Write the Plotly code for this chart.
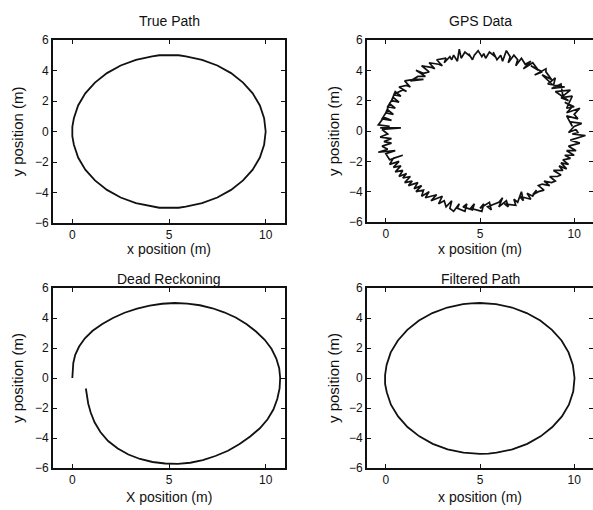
import plotly.graph_objects as go

# ---------------- data ----------------
TRUE_X = [10.00, 9.92, 9.70, 9.33, 8.83, 8.21, 7.50, 6.71, 5.87, 5.50, 5.00, 4.50, 4.13, 3.29, 2.50, 1.79, 1.17, 0.67,
          0.30, 0.08, 0.00, 0.00, 0.08, 0.30, 0.67, 1.17, 1.79, 2.50, 3.29, 4.13, 4.50, 5.00, 5.50, 5.87, 6.71, 7.50,
          8.21, 8.83, 9.33, 9.70, 9.92, 10.00]
TRUE_Y = [0.00, 0.87, 1.71, 2.50, 3.21, 3.83, 4.33, 4.70, 4.92, 5.00, 5.00, 5.00, 4.92, 4.70, 4.33, 3.83, 3.21, 2.50,
          1.71, 0.87, 0.30, -0.30, -0.87, -1.71, -2.50, -3.21, -3.83, -4.33, -4.70, -4.92, -5.00, -5.00, -5.00, -4.92,
          -4.70, -4.33, -3.83, -3.21, -2.50, -1.71, -0.87, 0.00]

GPS_X = [10.1, 9.7, 10.0, 10.4, 9.8, 9.9, 9.6, 10.2, 10.0, 10.3, 9.6, 9.9, 9.5, 10.0, 9.6, 9.9, 9.3, 9.7,
         9.0, 9.8, 9.4, 9.3, 8.8, 9.5, 8.6, 9.0, 8.9, 8.3, 8.8, 8.5, 8.5, 7.9, 8.3, 7.7, 8.1, 7.8,
         7.3, 7.7, 7.4, 7.2, 6.9, 7.0, 6.8, 6.5, 6.6, 6.4, 6.2, 6.1, 5.9, 5.7, 5.8, 5.5, 5.3, 5.2,
         5.1, 4.9, 4.7, 4.6, 4.4, 4.5, 4.2, 4.0, 3.9, 3.8, 3.6, 3.5, 3.4, 3.1, 3.2, 2.7, 3.0, 2.8,
         2.3, 2.6, 2.4, 1.9, 2.3, 2.0, 1.6, 2.1, 1.7, 1.3, 2.0, 1.5, 1.0, 1.3, 1.1, 0.7, 1.1, 0.9,
         0.4, 0.8, 0.5, 0.3, 0.7, 0.4, 0.1, 0.5, 0.2, 0.0, 0.4, 0.1, -0.2, 0.3, -0.1, -0.4, 0.2, -0.3,
         0.8, -0.2, 0.1, -0.3, 0.3, -0.1, 0.3, -0.2, 0.1, -0.4, 0.5, 0.0, 0.2, 0.9, 0.4, 0.2, 0.7, 0.4,
         0.8, 0.5, 0.9, 0.7, 1.1, 0.9, 1.3, 1.0, 1.4, 1.2, 1.7, 1.5, 1.9, 1.6, 2.0, 1.9, 2.3, 2.1,
         2.7, 2.4, 2.6, 3.0, 2.8, 3.1, 3.2, 3.5, 3.4, 3.6, 3.9, 3.8, 4.2, 4.3, 4.1, 4.6, 4.7, 4.5,
         5.1, 5.2, 5.0, 5.5, 5.6, 5.4, 6.0, 6.2, 6.0, 6.4, 6.5, 6.3, 6.9, 6.8, 7.0, 7.2, 7.3, 7.1,
         7.7, 7.5, 7.8, 8.0, 7.8, 8.1, 8.4, 8.1, 8.3, 8.7, 8.4, 8.8, 9.0, 8.7, 9.1, 9.3, 8.9, 9.4,
         9.2, 9.6, 9.3, 9.7, 9.4, 9.8, 9.5, 10.0, 9.6, 10.1, 9.7, 10.0, 10.3, 9.8, 10.1, 10.6, 9.9, 10.2,
         10.1]
GPS_Y = [0.1, -0.1, 0.3, 0.5, 0.6, 0.3, 1.0, 0.8, 1.1, 1.5, 1.2, 1.6, 1.9, 1.6, 1.5, 2.3, 2.2, 2.0,
         2.6, 2.7, 2.3, 3.1, 2.8, 2.9, 3.1, 3.5, 3.0, 3.7, 3.4, 3.9, 4.1, 3.7, 3.9, 4.3, 4.0, 4.5,
         4.1, 4.6, 4.4, 4.8, 4.3, 4.7, 5.0, 4.5, 4.9, 5.3, 4.6, 5.0, 4.7, 5.2, 4.9, 5.2, 4.8, 5.1,
         4.9, 5.3, 5.0, 4.7, 5.1, 4.9, 5.2, 4.8, 5.4, 4.6, 5.0, 4.7, 4.9, 4.5, 4.8, 4.7, 4.3, 4.4,
         4.5, 4.1, 4.2, 4.3, 3.9, 3.8, 4.0, 3.6, 3.6, 3.3, 3.4, 3.4, 3.3, 2.9, 3.0, 2.9, 2.6, 2.7,
         2.4, 2.3, 2.6, 2.0, 1.9, 2.2, 1.6, 1.5, 1.8, 1.2, 1.1, 1.4, 0.8, 0.7, 0.9, 0.4, 0.3, 0.2,
         0.2, 0.1, -0.2, -0.4, -0.5, -0.7, -0.8, -1.0, -1.2, -1.4, -1.3, -1.5, -1.9, -1.6, -1.8, -2.2, -2.0, -2.4,
         -2.3, -2.7, -2.6, -3.0, -2.8, -3.1, -3.0, -3.4, -3.3, -3.6, -3.4, -3.8, -3.6, -4.0, -3.9, -4.3, -4.0, -4.4,
         -4.2, -4.6, -4.5, -4.3, -4.8, -4.6, -5.0, -4.6, -5.1, -5.3, -4.8, -5.1, -5.3, -4.8, -5.0, -5.2, -4.8, -5.1,
         -5.3, -4.8, -5.1, -4.7, -5.2, -5.0, -4.7, -4.4, -5.0, -4.6, -5.0, -4.8, -4.9, -4.5, -4.7, -4.0, -4.6, -4.3,
         -4.5, -4.1, -4.3, -3.9, -4.2, -4.0, -3.9, -3.6, -3.5, -3.6, -3.3, -3.4, -3.3, -3.0, -3.0, -2.9, -2.6, -2.6,
         -2.3, -2.5, -2.1, -2.2, -1.9, -1.8, -1.6, -1.6, -1.3, -1.3, -1.0, -0.9, -0.8, -0.6, -0.5, -0.3, -0.2, -0.1,
         0.1]

DR_X = [0.00, 0.02, 0.05, 0.15, 0.35, 0.65, 1.05, 1.55, 2.10, 2.70, 3.35, 4.00, 4.65, 5.30, 5.95, 6.60, 7.25,
        7.85, 8.45, 9.00, 9.50, 9.95, 10.30, 10.55, 10.70, 10.75, 10.72, 10.60, 10.40, 10.10, 9.70, 9.20, 8.65,
        8.05, 7.40, 6.75, 6.10, 5.45, 4.80, 4.15, 3.50, 2.90, 2.35, 1.85, 1.45, 1.15, 0.95, 0.82, 0.74, 0.70]
DR_Y = [0.00, 0.50, 1.00, 1.55, 2.10, 2.65, 3.15, 3.60, 4.00, 4.35, 4.62, 4.82, 4.95, 5.00, 4.96, 4.85, 4.65,
        4.38, 4.03, 3.60, 3.10, 2.55, 1.95, 1.30, 0.65, 0.00, -0.70, -1.40, -2.10, -2.75, -3.35, -3.90, -4.40,
        -4.85, -5.20, -5.47, -5.65, -5.72, -5.70, -5.60, -5.40, -5.10, -4.70, -4.20, -3.60, -2.95, -2.30, -1.70,
        -1.10, -0.70]

FILT_X = [10.02, 9.93, 9.70, 9.33, 8.82, 8.20, 7.48, 6.70, 5.85, 5.40, 5.00, 4.55, 4.10, 3.26, 2.47, 1.76, 1.14,
          0.64, 0.26, 0.04, -0.04, -0.04, 0.05, 0.27, 0.65, 1.15, 1.78, 2.49, 3.28, 4.12, 4.55, 5.00, 5.45, 5.88,
          6.72, 7.51, 8.22, 8.84, 9.35, 9.72, 9.95, 10.02]
FILT_Y = [0.00, 0.87, 1.71, 2.50, 3.21, 3.83, 4.33, 4.70, 4.92, 4.98, 5.00, 4.98, 4.92, 4.70, 4.33, 3.83, 3.21,
          2.50, 1.71, 0.87, 0.20, -0.40, -0.95, -1.78, -2.56, -3.27, -3.89, -4.39, -4.76, -4.98, -5.04, -5.06,
          -5.04, -4.98, -4.76, -4.39, -3.89, -3.27, -2.56, -1.78, -0.90, 0.00]

TITLES = ["True Path", "GPS Data", "Dead Reckoning", "Filtered Path"]
XLABELS = ["x position (m)", "x position (m)", "X position (m)", "x position (m)"]
YLABEL = "y position (m)"
X_TICKS = [0, 5, 10]
Y_TICKS = [-6, -4, -2, 0, 2, 4, 6]

# ---------------- layout ----------------
W, H = 593, 510
FONT = "Liberation Sans, Arial, sans-serif"
INK = "#111111"

def px(x):
    return x / W

def py(y):
    return 1 - y / H

# pixel boxes: (left, right, top, bottom)
BOXES = [(53, 285, 40, 223), (367, 593, 40, 222), (53, 285, 288, 468), (367, 593, 288, 468)]
XLAB_Y = [249, 249, 497, 497]
TITLE_Y = [21, 21, 279, 279]
YLAB_X = [17, 333, 17, 333]

series = [(TRUE_X, TRUE_Y), (GPS_X, GPS_Y), (DR_X, DR_Y), (FILT_X, FILT_Y)]

fig = go.Figure()
annotations = []
for i, ((xs, ys), (l, r, t, b)) in enumerate(zip(series, BOXES)):
    n = "" if i == 0 else str(i + 1)
    fig.add_trace(go.Scatter(x=xs, y=ys, mode="lines", xaxis="x" + n, yaxis="y" + n,
                             line=dict(color=INK, width=1.7 if i == 1 else 1.8),
                             showlegend=False, hoverinfo="skip"))
    axcommon = dict(showline=True, linecolor=INK, linewidth=1.6, mirror="ticks",
                    ticks="inside", ticklen=4, tickwidth=1.4, tickcolor=INK,
                    showgrid=False, zeroline=False, fixedrange=True, automargin=False,
                    tickfont=dict(family=FONT, size=12, color=INK))
    fig.layout["xaxis" + n] = dict(axcommon, domain=[px(l), min(px(r), 1.0)], range=[-1, 11],
                                   tickvals=X_TICKS, anchor="y" + n)
    fig.layout["yaxis" + n] = dict(axcommon, domain=[py(b), py(t)], range=[-6, 6],
                                   tickvals=Y_TICKS, anchor="x" + n)
    cx = (l + r) / 2
    annotations.append(dict(text=TITLES[i], x=px(cx), y=py(TITLE_Y[i]), xref="paper", yref="paper",
                            showarrow=False, xanchor="center", yanchor="middle",
                            font=dict(family=FONT, size=14, color=INK)))
    annotations.append(dict(text=XLABELS[i], x=px(cx), y=py(XLAB_Y[i]), xref="paper", yref="paper",
                            showarrow=False, xanchor="center", yanchor="middle",
                            font=dict(family=FONT, size=14, color=INK)))
    annotations.append(dict(text=YLABEL, x=px(YLAB_X[i]), y=py((t + b) / 2), xref="paper", yref="paper",
                            showarrow=False, xanchor="center", yanchor="middle", textangle=-90,
                            font=dict(family=FONT, size=15, color=INK)))

fig.update_layout(template="none", width=W, height=H, autosize=False,
                  margin=dict(l=0, r=0, t=0, b=0, pad=0),
                  paper_bgcolor="white", plot_bgcolor="white", annotations=annotations,
                  font=dict(family=FONT, color=INK))

fig.write_html("out.html", config={"displayModeBar": False},
               post_script="document.body.style.margin='0';document.body.style.overflow='hidden';")
